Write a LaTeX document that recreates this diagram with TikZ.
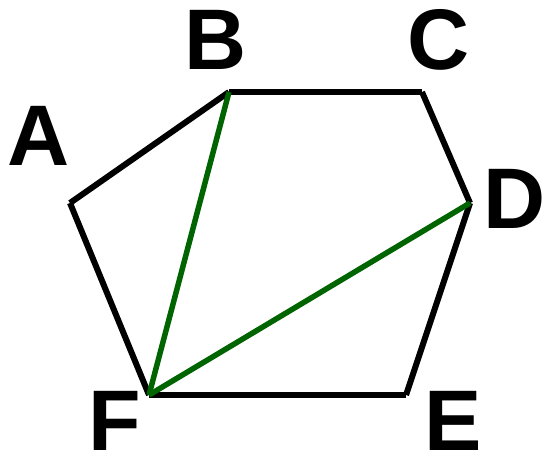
\documentclass[tikz,border=0pt]{standalone}
\usepackage{fontspec}
\setmainfont{Liberation Sans}
\definecolor{diaggreen}{RGB}{0,100,0}
\begin{document}
\begin{tikzpicture}[x=1pt,y=-1pt,
  edge/.style={line width=6pt,black,line cap=butt},
  diag/.style={line width=5.5pt,diaggreen,line cap=butt},
  lbl/.style={inner sep=0pt,font=\fontsize{86}{86}\selectfont\bfseries}]
\useasboundingbox (0,0) rectangle (546,457);
\coordinate (A) at (70,203);
\coordinate (B) at (229,92);
\coordinate (C) at (422,92);
\coordinate (D) at (470,203);
\coordinate (E) at (406,395);
\coordinate (F) at (149,395);
\draw[edge] (A) -- (B);
\draw[edge] (B) -- (C);
\draw[edge] (C) -- (D);
\draw[edge] (D) -- (E);
\draw[edge] (E) -- (F);
\draw[edge] (F) -- (A);
\draw[diag] (F) -- (B);
\draw[diag] (F) -- (D);
\node[lbl] (lA) at (38.5,136) {A};
\node[lbl] (lB) at (215.5,40) {B};
\node[lbl] (lC) at (438.5,40) {C};
\node[lbl] (lD) at (515,199) {D};
\node[lbl] (lE) at (453,421) {E};
\node[lbl] (lF) at (115,421) {F};
\end{tikzpicture}
\end{document}
